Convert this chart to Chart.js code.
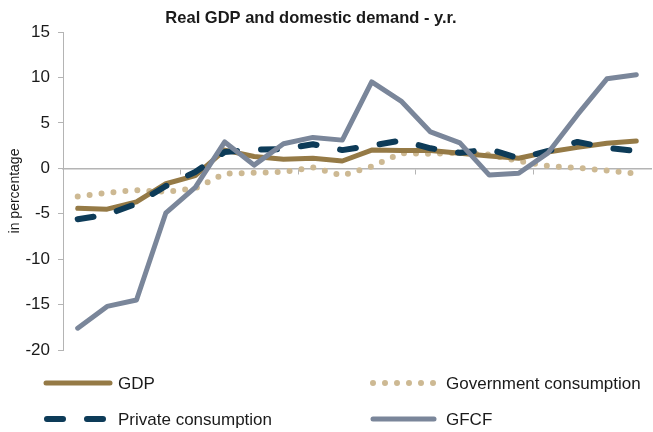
<!DOCTYPE html>
<html>
<head>
<meta charset="utf-8">
<script src="https://cdn.jsdelivr.net/npm/chart.js@4"></script>
<style>
  html,body{margin:0;padding:0;background:#fff}
  #wrap{width:653px;height:432px}
</style>
</head>
<body>
<div id="wrap"><canvas id="c" width="653" height="432"></canvas></div>
<script>
// quarterly, 5 years, axis ticks every 4 quarters
const labels = ['Q1','Q2','Q3','Q4','Q1','Q2','Q3','Q4','Q1','Q2','Q3','Q4','Q1','Q2','Q3','Q4','Q1','Q2','Q3','Q4'];
const gdp     = [-4.4,-4.5,-3.7,-1.7,-0.8,2.0,1.3,1.0,1.1,0.8,2.0,1.95,1.95,1.65,1.35,1.1,1.8,2.3,2.75,3.0];
const govCons = [-3.1,-2.7,-2.4,-2.6,-2.2,-0.6,-0.5,-0.4,0.1,-0.8,0.2,1.65,1.6,1.7,1.5,0.8,0.25,0.05,-0.25,-0.6];
const privCons= [-5.6,-5.1,-3.9,-1.95,-0.4,1.8,2.05,2.1,2.65,2.0,2.5,3.05,2.2,1.7,2.1,1.1,1.9,2.9,2.25,1.9];
const gfcf    = [-17.6,-15.2,-14.5,-4.9,-2.1,2.9,0.35,2.7,3.4,3.1,9.5,7.4,4.0,2.8,-0.75,-0.55,1.7,5.9,9.85,10.3];
const yTicks  = [15,10,5,0,-5,-10,-15,-20];

const FONT = '"Liberation Sans Narrow", "Liberation Sans", Arial, sans-serif';
const GRAY = '#b4b4b4';

// title + two-column legend drawn on the canvas
const extras = {
  id:'extras',
  afterDraw(chart){
    const ctx = chart.ctx;
    ctx.save();
    ctx.fillStyle = '#1a1a1a';
    ctx.font = 'bold 16.5px '+FONT;
    ctx.textAlign = 'center'; ctx.textBaseline = 'middle';
    ctx.fillText('Real GDP and domestic demand - y.r.', 311, 18);

    const items = [
      {ds:0, x0:46, x1:110, y:383},
      {ds:1, x0:373, x1:434, y:383},
      {ds:2, x0:47, x1:105, y:419},
      {ds:3, x0:373, x1:434, y:419}
    ];
    items.forEach(it=>{
      const d = chart.data.datasets[it.ds];
      ctx.beginPath();
      ctx.strokeStyle = d.borderColor;
      ctx.lineWidth = d.borderWidth;
      ctx.lineCap = d.borderCapStyle || 'butt';
      ctx.setLineDash(d.borderDash || []);
      ctx.moveTo(it.x0, it.y); ctx.lineTo(it.x1, it.y);
      ctx.stroke();
      ctx.setLineDash([]);
      ctx.fillStyle = '#1a1a1a';
      ctx.font = '17px '+FONT;
      ctx.textAlign = 'left';
      ctx.fillText(d.label, it.x0 < 200 ? 118 : 446, it.y+1);
    });
    ctx.restore();
  }
};

new Chart(document.getElementById('c'), {
  type:'line',
  data:{
    labels,
    datasets:[
      {label:'GDP', data:gdp, borderColor:'#957a46', borderWidth:5, borderCapStyle:'round', order:2},
      {label:'Government consumption', data:govCons, borderColor:'#cdb993', borderWidth:6, borderDash:[0,12], borderCapStyle:'round', order:3},
      {label:'Private consumption', data:privCons, borderColor:'#0d3b58', borderWidth:6, borderDash:[16,24], borderCapStyle:'round', order:1},
      {label:'GFCF', data:gfcf, borderColor:'#7a869a', borderWidth:5, borderCapStyle:'round', order:0}
    ]
  },
  options:{
    responsive:false,
    animation:false,
    layout:{padding:{top:32, bottom:82, left:0, right:2}},
    elements:{point:{radius:0}, line:{tension:0, borderJoinStyle:'round'}},
    plugins:{legend:{display:false}, title:{display:false}, tooltip:{enabled:false}},
    scales:{
      x:{
        position:{y:0},
        offset:true,
        grid:{offset:true, drawOnChartArea:false, tickLength:5,
              color:c=>(c.index%4===0 ? GRAY : 'rgba(0,0,0,0)')},
        border:{color:GRAY, width:1.5},
        ticks:{display:false, autoSkip:false}
      },
      y:{
        min:-20, max:15,
        afterFit(s){ s.width = 63; },
        afterBuildTicks(s){ s.ticks = yTicks.map(v=>({value:v})); },
        grid:{drawOnChartArea:false, tickLength:5, color:GRAY},
        border:{color:GRAY, width:1},
        ticks:{color:'#1a1a1a', font:{family:FONT, size:17}, padding:8},
        title:{display:true, text:'in percentage', color:'#1a1a1a', font:{family:FONT, size:14}, padding:{top:7, bottom:0}}
      }
    }
  },
  plugins:[extras]
});
</script>
</body>
</html>
